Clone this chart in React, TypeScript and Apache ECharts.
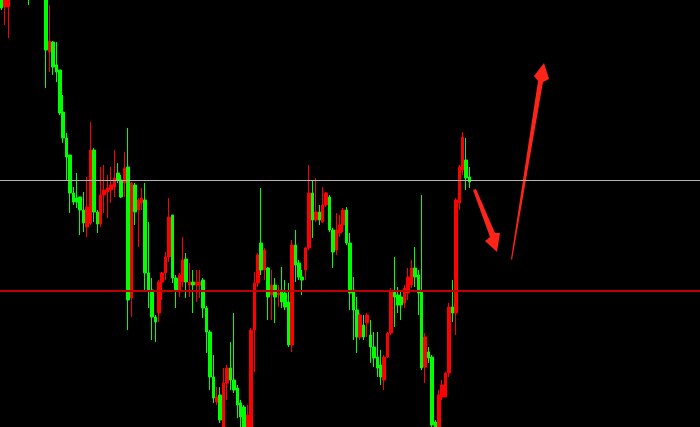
import React, { useEffect, useRef } from "react";
import * as echarts from "echarts";

// Candles, left to right: open, close, low, high (price units)
const opens = [
  432, 420, 420, 433, 440, 446, 443, 448, 444, 432, 440, 448, 445, 450, 375, 385, 362, 357, 315, 289,
  272, 234, 229, 230, 217, 200, 204, 277, 215, 203, 232, 235, 237, 240, 254, 247, 244, 260, 129, 242,
  217, 224, 227, 154, 137, 110, 114, 145, 154, 170, 212, 149, 135, 145, 168, 142, 145, 142, 142, 147,
  119, 95, 50, 25, 32, -3, 44, 59, 47, 39, 24, 20, -3, -3, 97, 144, 184, 157, 159, 132,
  142, 132, 137, 134, 125, 82, 182, 164, 150, 157, 179, 234, 207, 215, 205, 222, 230, 197, 177, 194,
  202, 217, 184, 137, 117, 90, 102, 104, 92, 80, 70, 62, 47, 70, 94, 135, 132, 130, 124, 134,
  142, 159, 152, 135, 60, 75, 70, 5, -3, 30, 30, 54, 120, 114, 224, 257, 267, 250,
];
const closes = [
  419, 430, 433, 440, 446, 443, 448, 444, 432, 440, 448, 445, 450, 377, 386, 360, 355, 314, 289, 270,
  234, 225, 225, 217, 204, 220, 277, 215, 203, 232, 237, 239, 242, 249, 247, 230, 259, 127, 244, 215,
  227, 229, 154, 137, 110, 105, 145, 154, 170, 210, 149, 137, 152, 167, 145, 145, 142, 145, 145, 119,
  95, 50, 29, 30, 7, 44, 59, 47, 37, 22, 10, -3, 12, 97, 144, 172, 157, 177, 130, 142,
  130, 134, 125, 120, 82, 182, 162, 150, 147, 179, 234, 207, 215, 207, 222, 234, 197, 175, 197, 202,
  217, 184, 134, 117, 90, 112, 90, 112, 80, 69, 59, 50, 70, 94, 135, 130, 122, 122, 139, 150,
  159, 150, 134, 59, 90, 69, 2, -3, 32, 42, 54, 120, 114, 227, 260, 290, 249, 245,
];
const lows = [
  417, 402, 389, 430, 436, 439, 440, 438, 422, 429, 437, 440, 441, 339, 355, 352, 345, 312, 284, 247,
  214, 222, 219, 192, 195, 190, 202, 205, 194, 200, 214, 209, 224, 230, 244, 229, 230, 97, 110, 202,
  180, 217, 135, 119, 87, 85, 105, 127, 147, 165, 144, 119, 130, 140, 129, 130, 114, 125, 129, 109,
  74, 37, 24, 22, 4, -5, 27, 37, 34, 9, 0, -8, -8, -8, 55, 140, 152, 147, 107, 107,
  104, 120, 119, 117, 80, 75, 145, 147, 132, 147, 177, 189, 205, 202, 204, 220, 195, 159, 172, 190,
  195, 182, 117, 87, 74, 87, 87, 90, 64, 60, 50, 42, 37, 69, 92, 100, 114, 107, 119, 127,
  139, 140, 112, 57, 44, 64, 0, -8, -8, 27, 30, 50, 105, 92, 217, 252, 237, 239,
];
const highs = [
  437, 435, 437, 445, 450, 452, 455, 452, 447, 444, 452, 455, 456, 453, 422, 386, 385, 357, 332, 294,
  272, 240, 254, 230, 235, 250, 305, 279, 217, 260, 262, 252, 260, 277, 264, 252, 275, 299, 245, 244,
  229, 239, 244, 205, 149, 112, 147, 155, 175, 229, 212, 152, 154, 190, 174, 164, 157, 157, 157, 149,
  121, 97, 72, 40, 40, 59, 62, 85, 114, 42, 27, 22, 22, 99, 155, 174, 239, 179, 160, 157,
  149, 142, 160, 147, 144, 187, 197, 167, 157, 180, 262, 247, 249, 222, 240, 235, 232, 199, 214, 212,
  219, 220, 194, 150, 130, 114, 112, 114, 107, 95, 95, 77, 72, 95, 139, 170, 140, 137, 142, 159,
  167, 180, 157, 232, 94, 80, 72, 7, 37, 47, 55, 124, 147, 229, 262, 295, 289, 260,
];

// Horizontal price levels
const upperLevel = 246.5;
const lowerLevel = 136;

// Slots on the time axis (right part left empty)
const slotCount = 205;
const slots = Array.from({ length: slotCount }, (_, i) => String(i));

const UP = "#ff0000";
const DOWN = "#00ff00";
const ARROW = "#ff2418";

// An empty series that only carries one horizontal level line
function levelLine(name: string, value: number, color: string, width: number) {
  return {
    name,
    type: "line",
    data: [],
    silent: true,
    markLine: {
      silent: true,
      symbol: ["none", "none"],
      label: { show: false },
      lineStyle: { color, width, type: "solid", opacity: 1 },
      emphasis: { disabled: true },
      data: [{ yAxis: value }],
    },
  };
}

export default function App() {
  const ref = useRef<HTMLDivElement>(null);

  useEffect(() => {
    if (!ref.current) return;
    const chart = echarts.init(ref.current, undefined, { renderer: "svg" });
    const candles = opens.map((o, i) => [o, closes[i], lows[i], highs[i]]);

    chart.setOption({
      animation: false,
      backgroundColor: "#000000",
      grid: { left: 0, right: 0, top: 0, bottom: 0 },
      xAxis: {
        type: "category",
        data: slots,
        boundaryGap: true,
        show: false,
      },
      yAxis: {
        type: "value",
        min: 0,
        max: 427,
        show: false,
        splitLine: { show: false },
      },
      series: [
        levelLine("upper", upperLevel, "#b4b4b4", 1),
        levelLine("lower", lowerLevel, "#c00000", 2),
        {
          type: "candlestick",
          data: candles,
          clip: true,
          barWidth: 3,
          silent: true,
          itemStyle: {
            color: UP,
            color0: DOWN,
            borderColor: UP,
            borderColor0: DOWN,
            borderWidth: 1,
          },
        },
      ],
      graphic: [
        {
          type: "polygon",
          silent: true,
          shape: {
            points: [
              [473, 190],
              [476, 189],
              [495, 233],
              [500, 233],
              [497, 252],
              [485, 241],
              [490, 237],
            ],
          },
          style: { fill: ARROW },
        },
        {
          type: "polygon",
          silent: true,
          shape: {
            points: [
              [512, 260],
              [543, 82],
              [549, 79],
              [544, 63],
              [534, 76],
              [538, 81],
              [511, 259],
            ],
          },
          style: { fill: ARROW },
        },
      ],
    });

    return () => chart.dispose();
  }, []);

  return (
    <div
      ref={ref}
      style={{ position: "fixed", left: 0, top: 0, width: 700, height: 427 }}
    />
  );
}
